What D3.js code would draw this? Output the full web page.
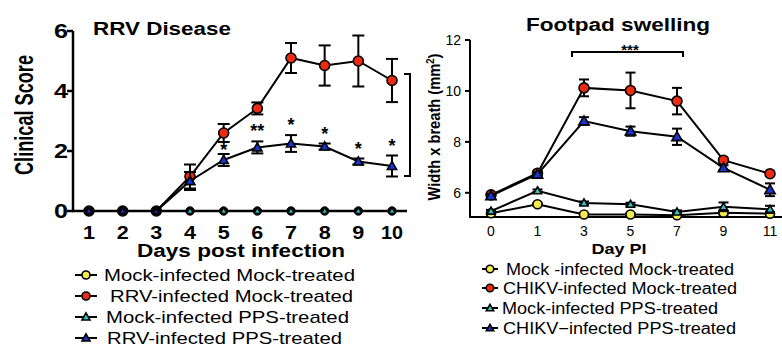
<!DOCTYPE html>
<html>
<head>
<meta charset="utf-8">
<script src="https://cdn.jsdelivr.net/npm/d3@7"></script>
<style>
  body { margin: 0; background: #fff; }
  svg { display: block; font-family: Arial, "Liberation Sans", sans-serif; }
</style>
</head>
<body>
<div id="chart"></div>
<script>
// Panel A: RRV disease clinical score
const rrvDays = [1, 2, 3, 4, 5, 6, 7, 8, 9, 10];
const rrvMockMock = [0, 0, 0, 0, 0, 0, 0, 0, 0, 0];
const rrvInfMock = [0, 0, 0, 1.15, 2.6, 3.42, 5.1, 4.85, 5.0, 4.35];
const rrvInfMockErr = [0, 0, 0, 0.4, 0.3, 0.2, 0.5, 0.67, 0.85, 0.72];
const rrvMockPps = [0, 0, 0, 0, 0, 0, 0, 0, 0, 0];
const rrvInfPps = [0, 0, 0, 1.0, 1.7, 2.12, 2.25, 2.15, 1.65, 1.5];
const rrvInfPpsErr = [0, 0, 0, 0.3, 0.2, 0.2, 0.28, 0.1, 0.1, 0.35];
const rrvStars = ['', '', '', '', '*', '**', '*', '*', '*', '*'];
const rrvTicks = [0, 2, 4, 6];
const rrvLegend = ['Mock-infected Mock-treated', 'RRV-infected Mock-treated', 'Mock-infected PPS-treated', 'RRV-infected PPS-treated'];

// Panel B: CHIKV footpad swelling
const fpDays = ['0', '1', '3', '5', '7', '9', '11'];
const fpMockMock = [5.2, 5.55, 5.15, 5.15, 5.12, 5.22, 5.18];
const fpMockMockErr = [0.05, 0.05, 0.05, 0.05, 0.05, 0.08, 0.06];
const fpInfMock = [5.92, 6.77, 10.12, 10.02, 9.6, 7.28, 6.75];
const fpInfMockErr = [0.08, 0.08, 0.33, 0.7, 0.52, 0.08, 0.08];
const fpMockPps = [5.28, 6.08, 5.6, 5.55, 5.25, 5.45, 5.35];
const fpMockPpsErr = [0.05, 0.05, 0.06, 0.06, 0.06, 0.17, 0.14];
const fpInfPps = [5.88, 6.73, 8.82, 8.42, 8.2, 6.98, 6.12];
const fpInfPpsErr = [0.08, 0.08, 0.15, 0.18, 0.32, 0.1, 0.25];
const fpTicks = [6, 8, 10, 12];
const fpLegend = ['Mock -infected Mock-treated', 'CHIKV-infected Mock-treated', 'Mock-infected PPS-treated', 'CHIKV\u2212infected PPS-treated'];

const colors = { yellow: '#f4ec4a', red: '#ee2b10', cyan: '#2bc8c8', blue: '#1733d0' };

const svg = d3.select('#chart').append('svg')
    .attr('width', 782)
    .attr('height', 347);

// the original figure is stretched sideways, so texts are fitted to their measured width
function fit(sel, w) {
    return sel.attr('textLength', w).attr('lengthAdjust', 'spacingAndGlyphs');
}

// draw a marker (circle or triangle)
function marker(g, shape, x, y, fill, size, sw = 1.6) {
    if (shape === 'circle') {
        g.append('circle').attr('cx', x).attr('cy', y).attr('r', size)
            .attr('fill', fill).attr('stroke', '#000').attr('stroke-width', sw);
    } else {
        const s = size * 1.15;
        g.append('path')
            .attr('d', `M${x},${y - s}L${x + s},${y + s * 0.75}L${x - s},${y + s * 0.75}Z`)
            .attr('fill', fill).attr('stroke', '#000').attr('stroke-width', sw);
    }
}

// zeroStyle: at a value of 0 the stacked markers render as a black disk with a small triangle
function drawSeries(g, xs, vals, errs, x, y, shape, fill, size, cap, zeroStyle) {
    const line = d3.line().x((d, i) => x(xs[i])).y(d => y(d));
    g.append('path').datum(vals).attr('d', line)
        .attr('fill', 'none').attr('stroke', '#000').attr('stroke-width', 2);
    if (errs) {
        vals.forEach((v, i) => {
            if (!errs[i]) return;
            const cx = x(xs[i]);
            const y0 = y(v - errs[i]), y1 = y(v + errs[i]);
            g.append('line').attr('x1', cx).attr('x2', cx).attr('y1', y0).attr('y2', y1)
                .attr('stroke', '#000').attr('stroke-width', 2);
            [y0, y1].forEach(yy => g.append('line')
                .attr('x1', cx - cap).attr('x2', cx + cap).attr('y1', yy).attr('y2', yy)
                .attr('stroke', '#000').attr('stroke-width', 2));
        });
    }
    vals.forEach((v, i) => {
        if (zeroStyle && v === 0) {
            if (shape === 'circle') marker(g, 'circle', x(xs[i]), y(v), '#000', 4.2, 1);
            else marker(g, 'triangle', x(xs[i]), y(v), fill, 2.2, 0.6);
        } else {
            marker(g, shape, x(xs[i]), y(v), fill, size);
        }
    });
}

// ---------- Left panel ----------
const xL = d3.scalePoint().domain(rrvDays).range([89, 392]);
const yL = d3.scaleLinear().domain([0, 6]).range([211, 31]);
const gL = svg.append('g');

// y axis
gL.append('line').attr('x1', 73).attr('x2', 73).attr('y1', yL(6)).attr('y2', yL(0))
    .attr('stroke', '#000').attr('stroke-width', 2.5);
rrvTicks.forEach(t => {
    gL.append('line').attr('x1', 67).attr('x2', 73).attr('y1', yL(t)).attr('y2', yL(t))
        .attr('stroke', '#000').attr('stroke-width', 2.5);
    fit(gL.append('text').attr('x', 68).attr('y', yL(t)).attr('dy', '0.36em')
        .attr('text-anchor', 'end').attr('font-size', 20).attr('font-weight', 'bold').text(t), 14);
});
// x axis
gL.append('line').attr('x1', 72).attr('x2', 407).attr('y1', yL(0)).attr('y2', yL(0))
    .attr('stroke', '#000').attr('stroke-width', 2.5);
rrvDays.forEach(d => {
    fit(gL.append('text').attr('x', xL(d)).attr('y', 239).attr('text-anchor', 'middle')
        .attr('font-size', 19).attr('font-weight', 'bold').text(d), d === 10 ? 22 : 12);
});
fit(gL.append('text').attr('x', 241).attr('y', 257).attr('text-anchor', 'middle')
    .attr('font-size', 18).attr('font-weight', 'bold').text('Days post infection'), 208);
fit(gL.append('text').attr('transform', 'translate(33,115) rotate(-90)').attr('text-anchor', 'middle')
    .attr('font-size', 25).attr('font-weight', 'bold').text('Clinical Score'), 120);
fit(gL.append('text').attr('x', 93).attr('y', 35)
    .attr('font-size', 18).attr('font-weight', 'bold').text('RRV Disease'), 138);

drawSeries(gL, rrvDays, rrvMockMock, null, xL, yL, 'circle', colors.yellow, 4.5, 0, true);
drawSeries(gL, rrvDays, rrvInfMock, rrvInfMockErr, xL, yL, 'circle', colors.red, 5, 6, false);
drawSeries(gL, rrvDays, rrvMockPps, null, xL, yL, 'triangle', colors.cyan, 3.5, 0, true);
// the zero markers for days 1-3 show the dark blue triangle on top
drawSeries(gL, rrvDays.slice(0, 3), rrvMockPps.slice(0, 3), null, xL, yL, 'circle', '#000', 4.2, 0, true);
drawSeries(gL, rrvDays.slice(0, 3), rrvInfPps.slice(0, 3), null, xL, yL, 'triangle', colors.blue, 4, 0, true);
drawSeries(gL, rrvDays.slice(3), rrvInfPps.slice(3), rrvInfPpsErr.slice(3), xL, yL, 'triangle', colors.blue, 4, 6, false);
gL.append('path').datum(rrvInfPps.slice(2, 4))
    .attr('d', d3.line().x((d, i) => xL(rrvDays[2 + i])).y(d => yL(d)))
    .attr('stroke', '#000').attr('stroke-width', 2);
marker(gL, 'triangle', xL(rrvDays[3]), yL(rrvInfPps[3]), colors.blue, 4);

// significance stars
rrvDays.forEach((d, i) => {
    if (!rrvStars[i]) return;
    const top = rrvInfPps[i] + rrvInfPpsErr[i];
    gL.append('text').attr('x', xL(d)).attr('y', yL(top) - 4 + (i === 4 ? 6 : 0))
        .attr('text-anchor', 'middle').attr('font-size', 18).attr('font-weight', 'bold')
        .text(rrvStars[i]);
});
// bracket at right
gL.append('path').attr('d', 'M404,74H410V176H404')
    .attr('fill', 'none').attr('stroke', '#000').attr('stroke-width', 2);

// legend left
const legL = [['circle', colors.yellow, 104, 251], ['circle', colors.red, 110, 243],
              ['triangle', colors.cyan, 106, 243], ['triangle', colors.blue, 107, 235]];
legL.forEach((m, i) => {
    const yy = 275 + i * 21;
    gL.append('line').attr('x1', 75).attr('x2', 97).attr('y1', yy).attr('y2', yy)
        .attr('stroke', '#000').attr('stroke-width', 2);
    marker(gL, m[0], 86, yy, m[1], m[0] === 'circle' ? 4 : 3.5);
    fit(gL.append('text').attr('x', m[2]).attr('y', yy).attr('dy', '0.36em')
        .attr('font-size', 17).text(rrvLegend[i]), m[3]);
});

// ---------- Right panel ----------
const xR = d3.scalePoint().domain(fpDays).range([491, 770]);
const yR = d3.scaleLinear().domain([5.05, 12]).range([217, 40]);
const gR = svg.append('g');

gR.append('line').attr('x1', 470).attr('x2', 470).attr('y1', yR(12)).attr('y2', yR(5.05))
    .attr('stroke', '#000').attr('stroke-width', 2);
fpTicks.forEach(t => {
    gR.append('line').attr('x1', 465).attr('x2', 470).attr('y1', yR(t)).attr('y2', yR(t))
        .attr('stroke', '#000').attr('stroke-width', 2);
    gR.append('text').attr('x', 461).attr('y', yR(t)).attr('dy', '0.36em')
        .attr('text-anchor', 'end').attr('font-size', 14).text(t);
});
gR.append('line').attr('x1', 469).attr('x2', 782).attr('y1', yR(5.05)).attr('y2', yR(5.05))
    .attr('stroke', '#000').attr('stroke-width', 2);
fpDays.forEach(d => {
    gR.append('text').attr('x', xR(d)).attr('y', 236).attr('text-anchor', 'middle')
        .attr('font-size', 14).text(d);
});
fit(gR.append('text').attr('x', 619).attr('y', 254).attr('text-anchor', 'middle')
    .attr('font-size', 15).attr('font-weight', 'bold').text('Day PI'), 55);
const yLab = gR.append('text').attr('transform', 'translate(440,127) rotate(-90)')
    .attr('text-anchor', 'middle').attr('font-size', 17).attr('font-weight', 'bold');
yLab.append('tspan').text('Width x breath (mm');
yLab.append('tspan').attr('font-size', 11).attr('baseline-shift', 'super').text('2');
yLab.append('tspan').text(')');
fit(yLab, 147);
fit(gR.append('text').attr('x', 618).attr('y', 31).attr('text-anchor', 'middle')
    .attr('font-size', 18).attr('font-weight', 'bold').text('Footpad swelling'), 184);

drawSeries(gR, fpDays, fpMockMock, fpMockMockErr, xR, yR, 'circle', colors.yellow, 4.5, 5, false);
drawSeries(gR, fpDays, fpMockPps, fpMockPpsErr, xR, yR, 'triangle', colors.cyan, 3.5, 5, false);
drawSeries(gR, fpDays, fpInfMock, fpInfMockErr, xR, yR, 'circle', colors.red, 5, 5, false);
drawSeries(gR, fpDays, fpInfPps, fpInfPpsErr, xR, yR, 'triangle', colors.blue, 4.5, 5, false);

// *** bracket
gR.append('path').attr('d', `M${xR('3') - 12},57V52H${xR('7') + 6}V57`)
    .attr('fill', 'none').attr('stroke', '#000').attr('stroke-width', 2);
gR.append('text').attr('x', 630).attr('y', 55).attr('text-anchor', 'middle')
    .attr('font-size', 15).attr('font-weight', 'bold').text('***');

// legend right
const legR = [['circle', colors.yellow, 506, 228], ['circle', colors.red, 503, 234],
              ['triangle', colors.cyan, 502, 216], ['triangle', colors.blue, 503, 233]];
const legRY = [269, 288, 308, 328];
legR.forEach((m, i) => {
    const yy = legRY[i];
    gR.append('line').attr('x1', 482).attr('x2', 498).attr('y1', yy).attr('y2', yy)
        .attr('stroke', '#000').attr('stroke-width', 2);
    marker(gR, m[0], 490, yy, m[1], m[0] === 'circle' ? 3.8 : 3.2);
    fit(gR.append('text').attr('x', m[2]).attr('y', yy).attr('dy', '0.36em')
        .attr('font-size', 16).text(fpLegend[i]), m[3]);
});
</script>
</body>
</html>
